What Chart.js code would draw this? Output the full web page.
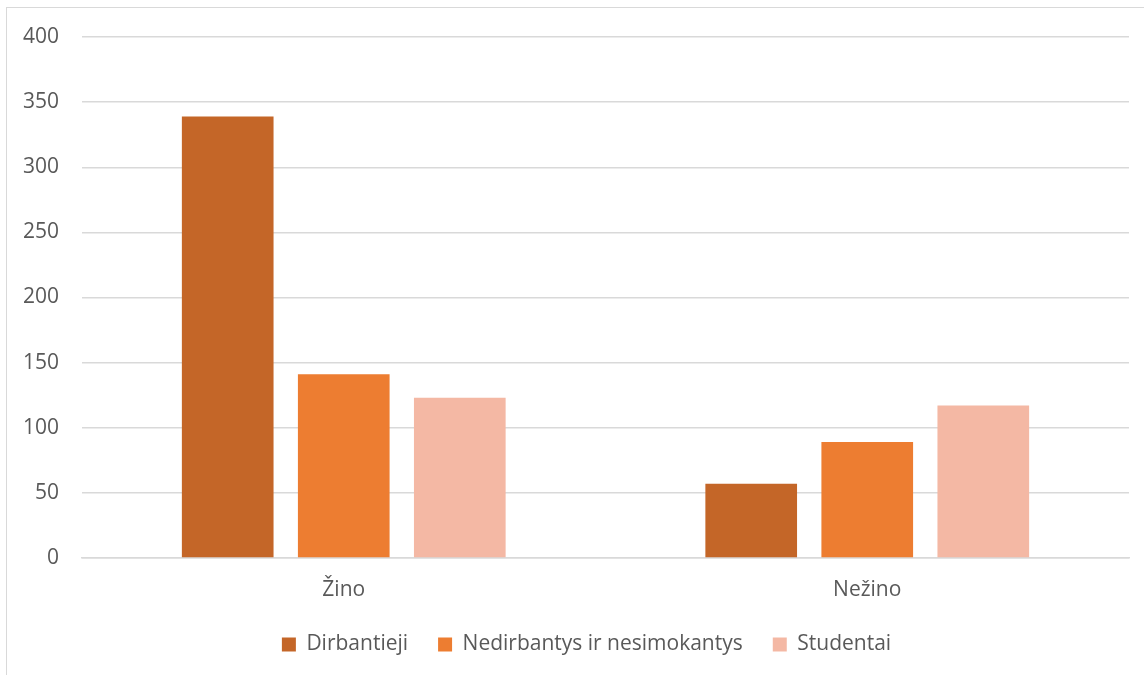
<!DOCTYPE html>
<html>
<head>
<meta charset="utf-8">
<script src="https://cdn.jsdelivr.net/npm/chart.js@4.4.0/dist/chart.umd.min.js"></script>
<style>
  html, body { margin: 0; padding: 0; background: #fff; overflow: hidden; }
  #frame { position: absolute; left: 6px; top: 7px; width: 1200px; height: 720px; border: 1px solid #d9d9d9; box-sizing: border-box; }
  #wrap { position: absolute; left: 0; top: 0; width: 1144px; height: 675px; }
</style>
</head>
<body>
<div id="frame"></div>
<div id="wrap"><canvas id="chart"></canvas></div>
<script>
const categories = ['Žino', 'Nežino'];
const seriesNames = ['Dirbantieji', 'Nedirbantys ir nesimokantys', 'Studentai'];
const dirbantieji = [339, 57];
const nedirbantys = [141, 89];
const studentai = [123, 117];
const seriesColors = ['#c46628', '#ed7d31', '#f4b8a4'];

const textColor = '#595959';
const gridColor = '#d9d9d9';
const font = { family: "'Open Sans', 'Noto Sans', sans-serif", size: 21 };

// nudge the legend row to the right of the canvas centre
const legendShift = {
  id: 'legendShift',
  afterLayout(chart) {
    const lg = chart.legend;
    if (lg) { lg.left += 22; lg.right += 22; }
  }
};

const ctx = document.getElementById('chart').getContext('2d');
new Chart(ctx, {
  type: 'bar',
  data: {
    labels: categories,
    datasets: [dirbantieji, nedirbantys, studentai].map((values, i) => ({
      label: seriesNames[i],
      data: values,
      backgroundColor: seriesColors[i],
      borderWidth: 0
    }))
  },
  plugins: [legendShift],
  options: {
    responsive: true,
    maintainAspectRatio: false,
    animation: false,
    categoryPercentage: 0.665,
    barPercentage: 0.79,
    layout: { padding: { top: 37, right: 15, bottom: 10, left: 0 } },
    plugins: {
      tooltip: { enabled: false },
      legend: {
        position: 'bottom',
        labels: {
          color: textColor,
          font: font,
          boxWidth: 14,
          boxHeight: 14,
          padding: 30
        }
      }
    },
    scales: {
      x: {
        afterFit: (scale) => { scale.height = 46; },
        grid: { display: false, drawTicks: false },
        border: { display: true, color: gridColor, width: 1.5 },
        ticks: { color: textColor, font: font, padding: 19 }
      },
      y: {
        min: 0,
        max: 400,
        afterFit: (scale) => { scale.width = 82; },
        grid: { color: gridColor, lineWidth: 1.5, drawTicks: false },
        border: { display: false },
        ticks: { stepSize: 50, color: textColor, font: font, padding: 23 }
      }
    }
  }
});
</script>
</body>
</html>
